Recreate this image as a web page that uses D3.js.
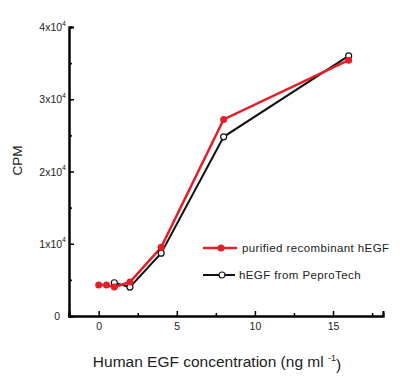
<!DOCTYPE html>
<html>
<head>
<meta charset="utf-8">
<script src="https://cdn.jsdelivr.net/npm/d3@7"></script>
<style>
  body { margin: 0; background: #fff; }
  text { font-family: "Liberation Sans", Arial, sans-serif; fill: #222; }
</style>
</head>
<body>
<div id="chart"></div>
<script>
// EGF dose response
var redX = [0, 0.5, 1, 2, 4, 8, 16];
var redY = [4300, 4300, 4000, 4700, 9500, 27200, 35400];
var blackX = [1, 2, 4, 8, 16];
var blackY = [4600, 4000, 8700, 24800, 36000];
var xTicks = [0, 5, 10, 15];
var yTicks = [0, 10000, 20000, 30000, 40000];
var legendNames = ["purified recombinant hEGF", "hEGF from PeproTech"];

var margin = {top: 27, left: 69, bottom: 71, right: 17};
var width = 400 - margin.left - margin.right;
var height = 387 - margin.top - margin.bottom;

var svg = d3.select("#chart").append("svg")
  .attr("width", 400)
  .attr("height", 387)
  .append("g")
  .attr("transform", "translate(" + margin.left + "," + margin.top + ")");

var x = d3.scaleLinear().domain([-1.9, 18.2]).range([0, width]);
var y = d3.scaleLinear().domain([0, 40000]).range([height, 0]);

// axes, ticks pointing inward
var xAxis = svg.append("g")
  .attr("transform", "translate(0," + height + ")")
  .call(d3.axisBottom(x).tickValues(xTicks).tickSize(-5).tickPadding(7).tickFormat(d3.format("d")));
svg.append("g")
  .attr("transform", "translate(0," + height + ")")
  .call(d3.axisBottom(x).tickValues([2.5, 7.5, 12.5, 17.5]).tickSize(-3).tickFormat(""));

var yAxis = svg.append("g")
  .call(d3.axisLeft(y).tickValues(yTicks).tickSize(-5).tickPadding(4).tickFormat(""));
svg.append("g")
  .call(d3.axisLeft(y).tickValues([5000, 15000, 25000, 35000]).tickSize(-3).tickFormat(""));

svg.selectAll(".domain").attr("stroke", "#000").attr("stroke-width", 2);
svg.selectAll(".tick line").attr("stroke", "#000").attr("stroke-width", 1.5);
xAxis.selectAll(".tick text").attr("font-size", 10.5).style("font-family", "Liberation Sans, Arial, sans-serif").attr("fill", "#222");

// y labels like 3x10^4
yAxis.selectAll(".tick").each(function(d) {
  var t = d3.select(this).append("text")
    .attr("x", -3).attr("dy", "0.35em")
    .attr("text-anchor", "end")
    .attr("font-size", 10.5)
    .attr("fill", "#222");
  if (d === 0) {
    t.attr("x", -9).attr("font-size", 10.5).text("0");
  } else {
    t.append("tspan").text((d / 10000) + "x10");
    t.append("tspan").attr("font-size", 7).attr("dy", "-0.8em").text("4");
  }
});

var line = d3.line().x(d => x(d[0])).y(d => y(d[1]));
var redData = redX.map((v, i) => [v, redY[i]]);
var blackData = blackX.map((v, i) => [v, blackY[i]]);

svg.append("path").datum(blackData)
  .attr("d", line).attr("fill", "none").attr("stroke", "#111").attr("stroke-width", 2);
svg.append("path").datum(redData)
  .attr("d", line).attr("fill", "none").attr("stroke", "#e3202a").attr("stroke-width", 2.5);

svg.selectAll(".bdot").data(blackData).enter().append("circle")
  .attr("cx", d => x(d[0])).attr("cy", d => y(d[1])).attr("r", 3)
  .attr("fill", "#fff").attr("stroke", "#111").attr("stroke-width", 1.2);
svg.selectAll(".rdot").data(redData).enter().append("circle")
  .attr("cx", d => x(d[0])).attr("cy", d => y(d[1])).attr("r", 3.5)
  .attr("fill", "#e3202a");

// legend
var legend = svg.append("g").attr("transform", "translate(134,221)");
var lg = [{c: "#e3202a", fill: "#e3202a", w: 2.5}, {c: "#111", fill: "#fff", w: 2}];
lg.forEach(function(s, i) {
  var g = legend.append("g").attr("transform", "translate(0," + (i * 27) + ")");
  g.append("line").attr("x1", 0).attr("x2", i ? 32 : 34).attr("stroke", s.c).attr("stroke-width", s.w);
  g.append("circle").attr("cx", i ? 19 : 18).attr("r", i ? 3 : 3.5)
    .attr("fill", s.fill).attr("stroke", s.c).attr("stroke-width", i ? 1.2 : 0);
  g.append("text").attr("x", i ? 36 : 39).attr("dy", "0.35em")
    .attr("font-size", 11.5).attr("letter-spacing", 0.4).text(legendNames[i]);
});

// axis titles
svg.append("text")
  .attr("transform", "translate(-47," + (height / 2 - 11) + ") rotate(-90)")
  .attr("text-anchor", "middle").attr("font-size", 13.5).text("CPM");

var xt = svg.append("text")
  .attr("x", 148).attr("y", height + 51)
  .attr("text-anchor", "middle").attr("font-size", 15.5);
xt.append("tspan").text("Human EGF concentration (ng ml ");
xt.append("tspan").attr("font-size", 9).attr("dy", "-0.7em").text("-1");
xt.append("tspan").attr("dy", "0.6em").text(")");
</script>
</body>
</html>
